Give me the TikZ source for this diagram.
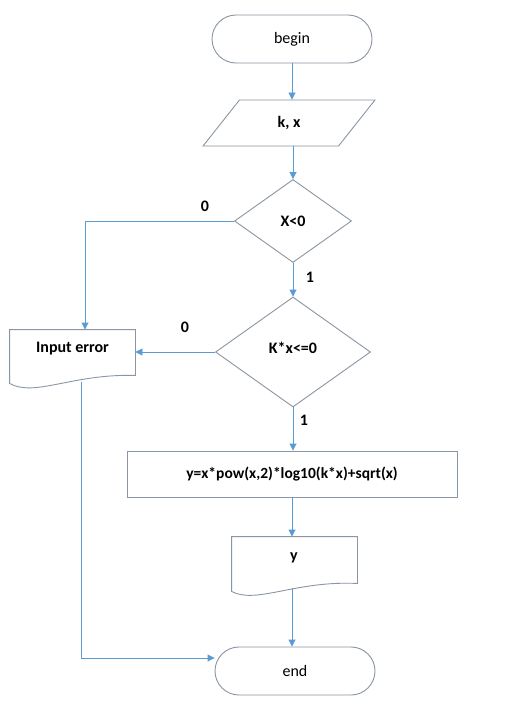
\documentclass[tikz,border=0pt]{standalone}
\usepackage{fontspec}
\setmainfont{Carlito}
\usetikzlibrary{shapes.geometric,shapes.misc,arrows.meta}
\definecolor{edgec}{HTML}{8A96A3}
\definecolor{linkc}{HTML}{5B9BD5}
\tikzset{
  base/.style={draw=edgec, line width=0.9pt, font=\fontsize{16}{18}\selectfont\bfseries, inner sep=0pt},
  term/.style={base, rounded rectangle, minimum width=160pt, minimum height=48pt, font=\fontsize{16}{18}\selectfont},
  io/.style={base, trapezium, trapezium left angle=58, trapezium right angle=122, trapezium stretches=true, minimum width=172pt, minimum height=46pt},
  decision/.style={base, diamond},
  proc/.style={base, rectangle},
  docbox/.style={base, draw=none, rectangle},
  link/.style={draw=linkc, line width=0.9pt, -{Triangle[width=7pt,length=7pt]}},
  lbl/.style={font=\fontsize{16}{18}\selectfont\bfseries, inner sep=0pt}
}
% document outline: #1 node, #2 width, #3 left rise, #4 right rise
\newcommand{\docshape}[4]{%
  \draw[draw=edgec, line width=0.9pt] ([yshift=#3]#1.south west) -- (#1.north west) -- (#1.north east) -- ([yshift=#4]#1.south east)
    .. controls ([xshift=-0.5*#2,yshift=14pt]#1.south east) and ([xshift=0.2*#2,yshift=-10pt]#1.south west) .. ([yshift=#3]#1.south west) -- cycle;}
\begin{document}
\begin{tikzpicture}[x=1pt,y=-1pt]
\useasboundingbox[fill=white] (0,0) rectangle (532,718);
\node[term] (begin) at (292,39) {begin};
\node[io] (input) at (289,123) {\raisebox{2pt}{k, x}};
\node[decision, minimum width=117pt, minimum height=83pt] (d1) at (293,221) {X<0};
\node[decision, minimum width=155pt, minimum height=110pt] (d2) at (293,352) {\raisebox{8pt}{K*x<=0}};
\node[docbox, minimum width=125pt, minimum height=57pt] (err) at (72.5,358.5) {};
\node[lbl] (errtxt) at (72.5,349) {Input error};
\docshape{err}{125pt}{4pt}{12pt}
\node[proc, minimum width=330pt, minimum height=46pt, font=\fontsize{15.5}{18}\selectfont\bfseries] (calc) at (292,474) {\raisebox{3pt}{y=x*pow(x,2)*log10(k*x)+sqrt(x)}};
\node[docbox, minimum width=125pt, minimum height=57pt] (out) at (294.5,565.5) {};
\node[lbl] (outtxt) at (294,558) {y};
\docshape{out}{125pt}{3pt}{11pt}
\node[term] (end) at (295,671) {end};
\coordinate (c1) at (85,221);
\coordinate (c2) at (81,658);
\draw[link] (begin.south) -- (begin.south |- input.north);
\draw[link] (input.south -| d1.north) -- (d1.north);
\draw[link] (d1.west) -- (c1) -- (c1 |- err.north);
\draw[link] (d1.south) -- (d2.north);
\draw[link] (d2.west) -- (err.east |- d2.west);
\draw[link] (d2.south) -- (calc.north -| d2.south);
\draw[link] (calc.south) -- (out.north -| calc.south);
\draw[link] ([yshift=6pt]out.south -| calc.south) -- (end.north -| calc.south);
\draw[link] ([yshift=5pt]c2 |- err.south) -- (c2) -- (c2 -| end.west);
\node[lbl] (l0a) at (205,206) {0};
\node[lbl] (l1a) at (310,277) {1};
\node[lbl] (l0b) at (185,327) {0};
\node[lbl] (l1b) at (304,420) {1};
\end{tikzpicture}
\end{document}
